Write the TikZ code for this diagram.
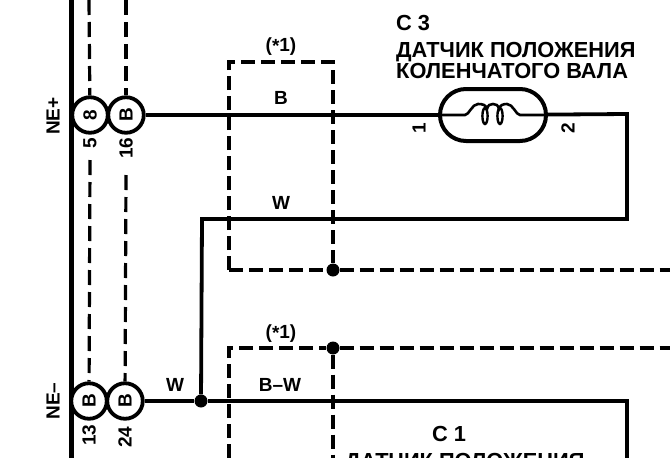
\documentclass[tikz,border=0pt]{standalone}
\usepackage{fontspec}
\setmainfont{Liberation Sans}
\usetikzlibrary{calc}
\tikzset{
  wire/.style={line width=3.8pt,line join=miter},
  thin wire/.style={line width=2.6pt},
  bus/.style={line width=5pt},
  dash line/.style={line width=3.2pt,dash pattern=on 15pt off 7pt},
  short dash/.style={line width=3.2pt,dash pattern=on 14pt off 6pt},
  pin/.style={circle,draw,line width=3.8pt,minimum size=35.5pt,inner sep=0pt,fill=white,font=\bfseries\fontsize{19}{19}\selectfont},
  dot/.style={circle,fill=black,inner sep=0pt,minimum size=13pt},
  lab/.style={inner sep=0pt,font=\bfseries\fontsize{19}{19}\selectfont},
  caption/.style={inner sep=0pt,align=left,font=\bfseries\fontsize{21.8}{21}\selectfont},
  sensor/.style={draw,line width=4pt,rounded corners=26pt,minimum width=106pt,minimum height=52pt,inner sep=0pt}
}
\begin{document}
\begin{tikzpicture}[x=1pt,y=-1pt]
\useasboundingbox (0,0) rectangle (670,458);
\coordinate (bt) at (71,0); \coordinate (bb) at (71,458);
\coordinate (t5) at (89,0); \coordinate (t16) at (126,0);
\coordinate (c1) at (627,114); \coordinate (c2) at (627,219);
\coordinate (c3) at (202,219);
\coordinate (c4) at (627,401); \coordinate (c5) at (627,458);
\coordinate (k1) at (229,62); \coordinate (k2) at (333,62);
\coordinate (k3) at (229,270); \coordinate (k4) at (670,270);
\coordinate (k5) at (229,348); \coordinate (k6) at (670,348);
\coordinate (k7) at (229,458); \coordinate (k8) at (333,458);
\draw[bus] (bt) -- (bb);
\node[pin] (p5) at (90,115) {\rotatebox{90}{8}};
\node[pin] (p16) at (126,115) {\rotatebox{90}{B}};
\node[pin] (p13) at (89,401) {\rotatebox{90}{B}};
\node[pin] (p24) at (125,401) {\rotatebox{90}{B}};
\node[sensor] (s) at (493,115) {};
\node[dot] (d1) at (333,270) {};
\node[dot] (d2) at (333,348) {};
\node[dot] (d3) at (201,401) {};
\draw[dash line] (t5) -- (p5);
\draw[dash line] (t16) -- (p16);
\draw[dash line] (p5 |- 0,160) -- (p13);
\draw[dash line] (p16 |- 0,175) -- (p24);
\draw[short dash] (k3) -- (k1) -- (k2) -- (d1);
\draw[short dash] (k3) -- (d1);
\draw[short dash] (d1) -- (k4);
\draw[short dash] (k7) -- (k5) -- (d2);
\draw[short dash] (d2) -- (k6);
\draw[short dash] (d2) -- (k8);
% wires
\draw[wire] (p16) -- (s);
\draw[wire] (s) -- (c1) -- (c2) -- (c3) -- (d3);
\draw[wire] (p24) -- (d3) -- (c4) -- (c5);
% coil
\draw[thin wire] (s.west) -- (465,115) .. controls (469,115) and (472,104) .. (478,104)
  .. controls (483,104) and (486,105) .. (487,109) .. controls (488,105) and (490,104) .. (493,104)
  .. controls (496,104) and (498,105) .. (499,109) .. controls (500,105) and (503,104) .. (507,104)
  .. controls (513,104) and (516,115) .. (520,115) -- (s.east);
\draw[line width=2.4pt] (485,116) ellipse (2.6pt and 8pt);
\draw[line width=2.4pt] (500,116) ellipse (2.6pt and 8pt);
% labels
\node[lab,rotate=90] (ne1) at (53,116) {NE+};
\node[lab,rotate=90] (ne2) at (53,401) {NE--};
\node[lab,rotate=90] (n5) at (90,143) {5};
\node[lab,rotate=90] (n16) at (126,148) {16};
\node[lab,rotate=90] (n13) at (89,435) {13};
\node[lab,rotate=90] (n24) at (125,437) {24};
\node[lab] at (281,47) {(\raisebox{-1pt}{*}1)};
\node[lab] at (281,98) {B};
\node[lab] at (281,203) {W};
\node[lab] at (281,334) {(\raisebox{-1pt}{*}1)};
\node[lab] at (175,385) {W};
\node[lab] at (280,385) {B--W};
\node[lab,rotate=90] at (419,128) {1};
\node[lab,rotate=90] at (568,128) {2};
\node[caption,anchor=base west] at (396,30) {С 3};
\node[caption,anchor=base west] at (396,57) {ДАТЧИК ПОЛОЖЕНИЯ};
\node[caption,anchor=base west] at (396,78) {КОЛЕНЧАТОГО ВАЛА};
\node[caption,anchor=base west] at (432,441) {С 1};
\node[caption,anchor=base west] at (345,468) {ДАТЧИК ПОЛОЖЕНИЯ};
\end{tikzpicture}
\end{document}
